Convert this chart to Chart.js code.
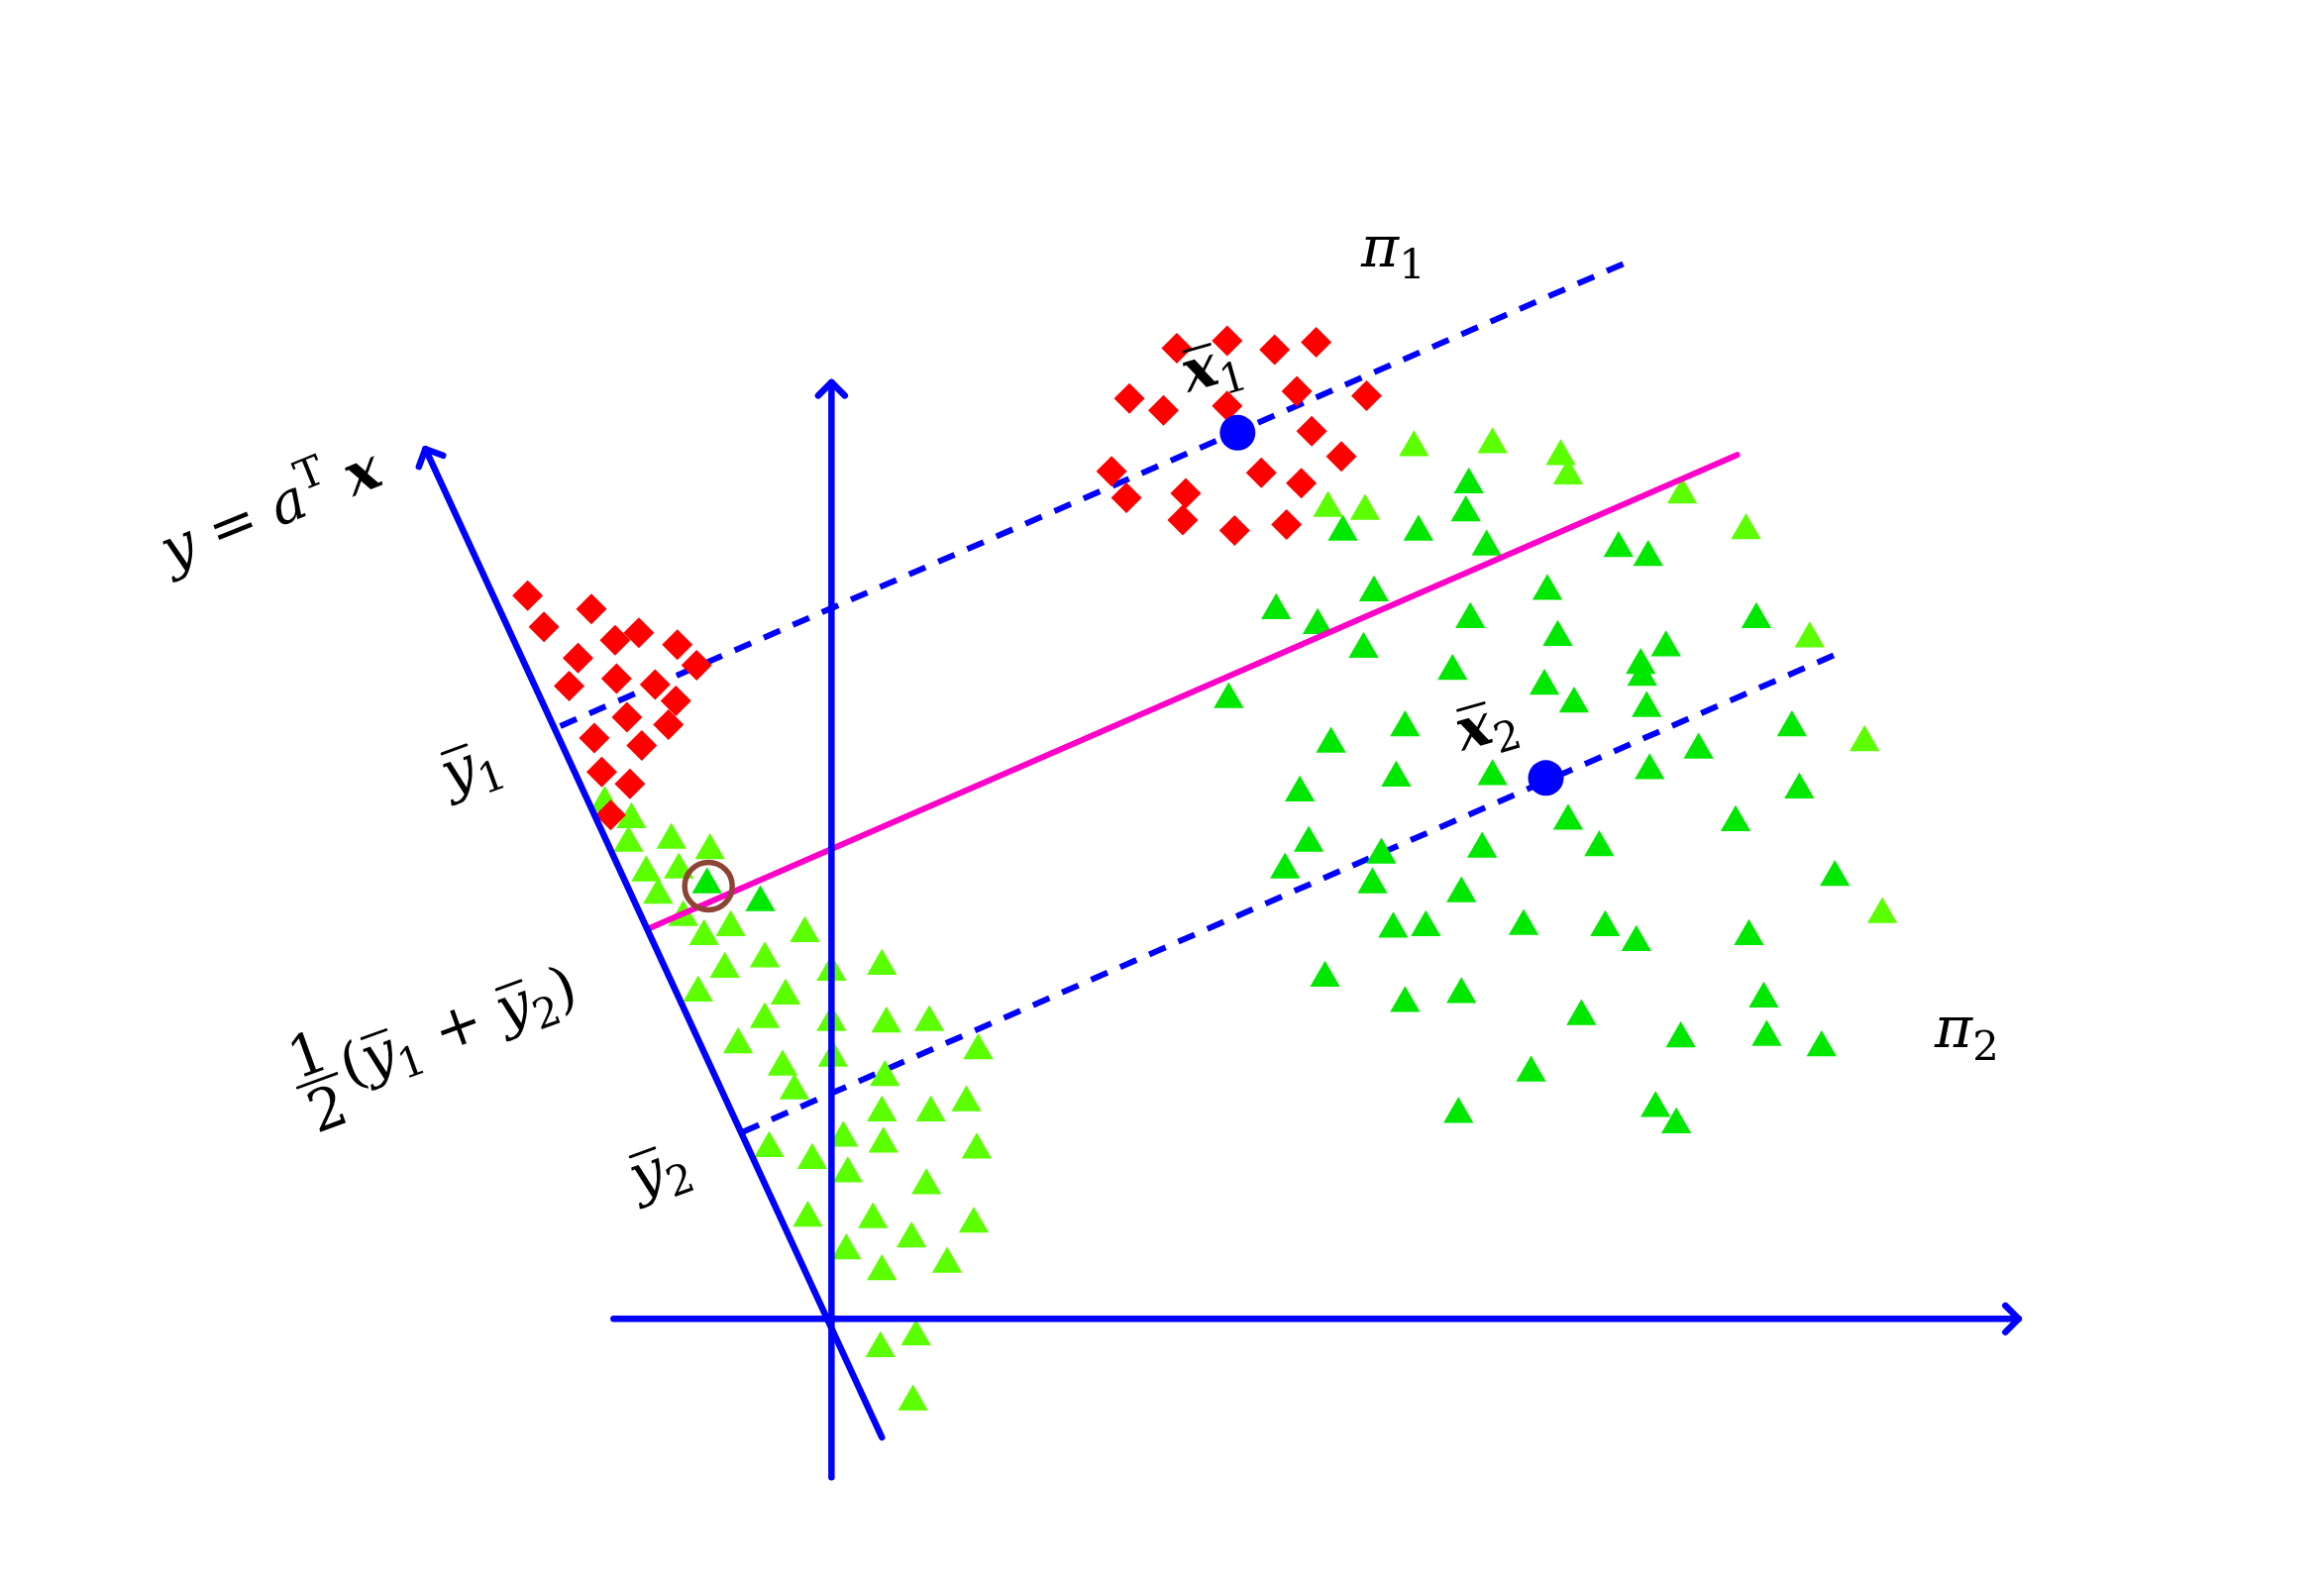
<!DOCTYPE html>
<html>
<head>
<meta charset="utf-8">
<title>LDA projection</title>
<script src="https://cdn.jsdelivr.net/npm/chart.js@4.4.1/dist/chart.umd.min.js"></script>
<style>
  html, body { margin: 0; padding: 0; background: #fff; }
  #wrap { position: relative; width: 2346px; height: 1605px; }
</style>
</head>
<body>
<div id="wrap"><canvas id="chart"></canvas></div>
<script>
// --- data (x, y) in plot units, origin where the two axes cross ---
// class pi1 samples (red diamonds), upper cluster and its projection on y axis
const redUpper = [
    [23.4, 65.5], [26.8, 66.0], [30.0, 65.4], [32.8, 65.9], [20.2, 62.1], [22.5, 61.3],
    [26.8, 61.6], [31.5, 62.6], [36.2, 62.3], [32.5, 59.9], [34.5, 58.2], [29.1, 57.1],
    [31.8, 56.4], [19.0, 57.2], [20.0, 55.4], [24.0, 55.7], [23.8, 53.9], [27.3, 53.2],
    [30.8, 53.6]
];
const redLower = [
    [-20.4, 48.8], [-16.1, 47.9], [-19.3, 46.7], [-14.5, 45.8], [-12.9, 46.3], [-10.3, 45.5],
    [-9.0, 44.1], [-17.0, 44.6], [-17.6, 42.7], [-14.4, 43.2], [-11.8, 42.8], [-10.4, 41.7],
    [-13.7, 40.6], [-10.9, 40.1], [-15.9, 39.2], [-12.7, 38.7], [-15.4, 36.9], [-13.5, 36.1],
    [-14.8, 34.0]
];
// class pi2 samples (triangles), two shades of green as in the picture
const limeTriangles = [
    [-15.2, 34.8], [-13.4, 33.7], [-13.6, 32.1], [-10.7, 32.3], [-8.1, 31.6], [-12.4, 30.1],
    [-10.2, 30.3], [-11.6, 28.6], [-9.9, 27.1], [-8.5, 25.8], [-6.7, 26.4], [-1.7, 26.0],
    [-7.1, 23.6], [-4.4, 24.3], [0.1, 23.4], [3.5, 23.8], [-8.9, 22.0], [-3.0, 21.8],
    [-4.4, 20.2], [0.1, 20.0], [3.8, 19.9], [6.7, 20.0], [-6.2, 18.5], [-3.2, 17.0],
    [0.2, 17.6], [10.0, 18.1], [-2.4, 15.4], [3.7, 16.3], [3.5, 13.9], [6.8, 13.9],
    [9.2, 14.6], [-4.1, 11.5], [-1.2, 10.7], [0.9, 12.2], [1.2, 9.8], [3.6, 11.8],
    [9.9, 11.4], [6.5, 9.0], [-1.5, 6.8], [2.9, 6.7], [5.5, 5.4], [9.7, 6.4],
    [1.1, 4.6], [3.5, 3.2], [7.9, 3.7], [3.4, -2.0], [5.8, -1.2], [5.6, -5.6],
    [39.4, 58.8], [44.7, 59.0], [49.3, 58.2], [49.8, 56.9], [33.6, 54.7], [36.1, 54.5],
    [57.5, 55.6], [61.8, 53.2], [66.1, 45.9], [69.8, 38.9], [71.0, 27.3]
];
const greenTriangles = [
    [-8.3, 29.3], [-4.7, 28.1],
    [43.1, 56.3], [34.6, 53.1], [39.7, 53.1], [42.9, 54.4], [44.3, 52.1], [53.2, 52.0],
    [55.2, 51.4], [30.1, 47.8], [32.9, 46.8], [36.7, 49.0], [43.2, 47.2], [48.4, 49.1],
    [49.1, 46.0], [36.0, 45.2], [62.5, 47.2], [56.4, 45.3], [54.7, 44.1], [54.8, 43.3],
    [26.9, 41.8], [42.0, 43.7], [48.2, 42.7], [50.2, 41.5], [55.1, 41.2], [33.8, 38.8],
    [38.8, 39.9], [64.9, 39.9], [58.6, 38.4], [31.7, 35.5], [38.2, 36.5], [44.7, 36.6],
    [55.3, 37.0], [65.4, 35.7], [49.8, 33.6], [61.1, 33.5], [51.9, 31.8], [44.0, 31.7],
    [32.3, 32.1], [30.7, 30.3], [37.2, 31.3], [36.6, 29.3], [42.6, 28.7], [67.8, 29.8],
    [38.0, 26.3], [40.2, 26.4], [46.8, 26.5], [52.3, 26.4], [54.4, 25.4], [62.0, 25.8],
    [33.4, 23.0], [38.8, 21.3], [42.6, 21.9], [50.7, 20.4], [63.0, 21.6], [57.4, 18.9],
    [63.2, 19.0], [66.9, 18.3], [47.3, 16.6], [42.4, 13.8], [55.7, 14.2], [57.1, 13.1]
];
// class means x1, x2 and the misclassified sample that is circled
const classMeans = [[27.5, 59.8], [48.3, 36.5]];
const circledPoint = [[-8.2, 29.2]];

// lines: start, end (arrow drawn at the end)
const xAxisLine = [[-14.6, 0], [80.2, 0]];
const yAxisLine = [[0.1, -10.7], [0.1, 63.2]];
const projAxis = [[3.5, -8.0], [-27.3, 58.7]];
const boundaryLine = [[-12.3, 26.3], [61.2, 58.3]];
const meanLine1 = [[-18.2, 40.0], [54.0, 71.4]];
const meanLine2 = [[-5.9, 12.6], [68.0, 44.9]];

// math labels
const mathLabels = [
    {at: [38.0, 72.2], rot: 0, parts: [{t: 'π', f: 'i'}, {t: '1', s: 'sub'}]},
    {at: [76.7, 19.5], rot: 0, parts: [{t: 'π', f: 'i'}, {t: '2', s: 'sub'}]},
    {at: [25.8, 64.2], rot: -16, parts: [{t: 'x', f: 'b', bar: true}, {t: '1', s: 'sub'}]},
    {at: [44.3, 40.0], rot: -16, parts: [{t: 'x', f: 'b', bar: true}, {t: '2', s: 'sub'}]},
    {at: [-37.7, 54.5], rot: -22, parts: [{t: 'y', f: 'i'}, {t: ' = '}, {t: 'a', f: 'i'},
            {t: 'T', s: 'sup'}, {t: ' '}, {t: 'x', f: 'b'}]},
    {at: [-24.2, 37.2], rot: -20, parts: [{t: 'y', f: 'i', bar: true}, {t: '1', s: 'sub'}]},
    {at: [-26.8, 19.0], rot: -20, parts: [{frac: ['1', '2']}, {t: '('}, {t: 'y', f: 'i', bar: true},
            {t: '1', s: 'sub'}, {t: ' + '}, {t: 'y', f: 'i', bar: true}, {t: '2', s: 'sub'}, {t: ')'}]},
    {at: [-11.5, 10.0], rot: -20, parts: [{t: 'y', f: 'i', bar: true}, {t: '2', s: 'sub'}]}
];

const BLUE = '#0000ff';
const RED = '#ff0000';
const LIME = '#5cff00';
const GREEN = '#00e800';
const MAGENTA = '#ff00c8';
const BROWN = '#8c4434';
const FONT = '"DejaVu Serif"';
const TEXT_SIZE = 58;

function toPts(arr) {
    return arr.map(function (p) { return {x: p[0], y: p[1]}; });
}

function lineSet(arr, color, width, dash, order, arrow) {
    return {
        data: toPts(arr), showLine: true, borderColor: color, borderWidth: width,
        borderDash: dash || [], borderCapStyle: dash ? 'butt' : 'round',
        pointRadius: 0, pointHoverRadius: 0, order: order, arrow: !!arrow
    };
}

function markerSet(arr, color, style, radius, order) {
    return {
        data: toPts(arr), showLine: false, pointStyle: style, pointRadius: radius,
        pointHoverRadius: radius, backgroundColor: color, borderColor: color,
        borderWidth: 0, order: order
    };
}

// arrow heads + math text
const overlayPlugin = {
    id: 'overlay',
    afterDatasetsDraw: function (chart) {
        var ctx = chart.ctx;
        var xs = chart.scales.x, ys = chart.scales.y;
        ctx.save();
        chart.data.datasets.forEach(function (ds) {
            if (!ds.arrow)
                return;
            var n = ds.data.length;
            var x1 = xs.getPixelForValue(ds.data[n - 2].x), y1 = ys.getPixelForValue(ds.data[n - 2].y);
            var x2 = xs.getPixelForValue(ds.data[n - 1].x), y2 = ys.getPixelForValue(ds.data[n - 1].y);
            var ang = Math.atan2(y2 - y1, x2 - x1);
            var len = 19, spread = Math.PI / 4;
            ctx.strokeStyle = ds.borderColor;
            ctx.lineWidth = ds.borderWidth;
            ctx.lineCap = 'round';
            ctx.lineJoin = 'round';
            ctx.beginPath();
            ctx.moveTo(x2 - len * Math.cos(ang - spread), y2 - len * Math.sin(ang - spread));
            ctx.lineTo(x2, y2);
            ctx.lineTo(x2 - len * Math.cos(ang + spread), y2 - len * Math.sin(ang + spread));
            ctx.stroke();
        });
        mathLabels.forEach(function (lab) {
            drawMath(ctx, xs.getPixelForValue(lab.at[0]), ys.getPixelForValue(lab.at[1]), lab, TEXT_SIZE);
        });
        ctx.restore();
    }
};

function partFont(p, size) {
    var sz = p.s ? size * 0.72 : size;
    var style = p.f === 'b' ? 'italic bold ' : (p.f === 'i' ? 'italic ' : '');
    return style + sz + 'px ' + FONT;
}

function drawMath(ctx, px, py, lab, size) {
    ctx.save();
    ctx.translate(px, py);
    ctx.rotate(lab.rot * Math.PI / 180);
    ctx.fillStyle = '#000';
    ctx.strokeStyle = '#000';
    ctx.textBaseline = 'alphabetic';
    ctx.textAlign = 'left';
    // measure
    var widths = lab.parts.map(function (p) {
        if (p.frac) {
            ctx.font = size + 'px ' + FONT;
            return Math.max(ctx.measureText(p.frac[0]).width, ctx.measureText(p.frac[1]).width) * 1.5;
        }
        ctx.font = partFont(p, size);
        return ctx.measureText(p.t).width;
    });
    var total = widths.reduce(function (a, b) { return a + b; }, 0);
    var x = -total / 2;
    var base = size * 0.3;
    lab.parts.forEach(function (p, i) {
        var w = widths[i];
        if (p.frac) {
            var barY = base - size * 0.28;
            ctx.font = size + 'px ' + FONT;
            ctx.textAlign = 'center';
            ctx.fillText(p.frac[0], x + w / 2, barY - size * 0.14);
            ctx.fillText(p.frac[1], x + w / 2, barY + size * 0.86);
            ctx.textAlign = 'left';
            ctx.lineWidth = size * 0.05;
            ctx.beginPath();
            ctx.moveTo(x + w * 0.12, barY);
            ctx.lineTo(x + w * 0.88, barY);
            ctx.stroke();
        } else {
            ctx.font = partFont(p, size);
            var y = base;
            if (p.s === 'sub')
                y += size * 0.22;
            if (p.s === 'sup')
                y -= size * 0.42;
            ctx.fillText(p.t, x, y);
            if (p.bar) {
                var by = base - size * 0.7;
                ctx.lineWidth = size * 0.05;
                ctx.beginPath();
                ctx.moveTo(x + w * 0.2, by);
                ctx.lineTo(x + w * 1.0, by);
                ctx.stroke();
            }
        }
        x += w;
    });
    ctx.restore();
}

new Chart(document.getElementById('chart'), {
    type: 'scatter',
    data: {
        datasets: [
            lineSet(meanLine1, BLUE, 6, [18, 14], 20),
            lineSet(meanLine2, BLUE, 6, [18, 14], 20),
            markerSet(redUpper, RED, 'rectRot', 15.5, 10),
            markerSet(redLower, RED, 'rectRot', 15.5, 10),
            markerSet(limeTriangles, LIME, 'triangle', 17.5, 10),
            markerSet(greenTriangles, GREEN, 'triangle', 17.5, 10),
            lineSet(xAxisLine, BLUE, 6.5, null, 5, true),
            lineSet(yAxisLine, BLUE, 6.5, null, 5, true),
            lineSet(projAxis, BLUE, 6.5, null, 5, true),
            lineSet(boundaryLine, MAGENTA, 6, null, 5),
            markerSet(classMeans, BLUE, 'circle', 18, 2),
            {
                data: toPts(circledPoint), showLine: false, pointStyle: 'circle',
                pointRadius: 24, pointHoverRadius: 24, backgroundColor: 'rgba(0,0,0,0)',
                borderColor: BROWN, borderWidth: 5.5, order: 1
            }
        ]
    },
    options: {
        responsive: true,
        maintainAspectRatio: false,
        animation: false,
        events: [],
        layout: {padding: 0, autoPadding: false},
        plugins: {
            legend: {display: false},
            tooltip: {enabled: false}
        },
        scales: {
            x: {type: 'linear', min: -56, max: 100.8, display: false},
            y: {type: 'linear', min: -18.3, max: 89, display: false}
        }
    },
    plugins: [overlayPlugin]
});
</script>
</body>
</html>
